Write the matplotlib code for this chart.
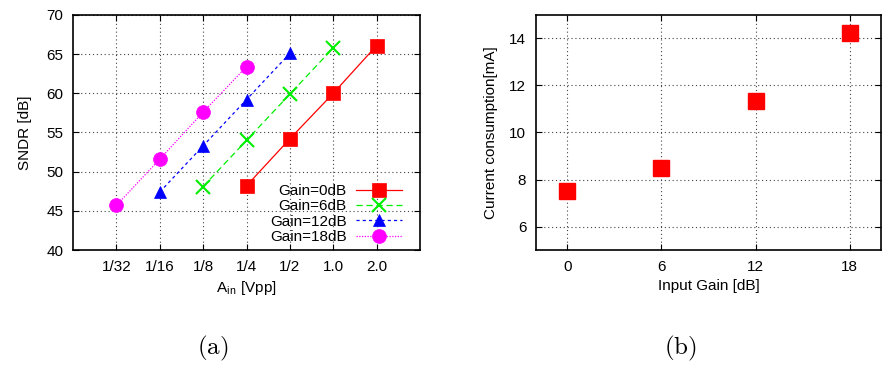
import numpy as np
import matplotlib
matplotlib.use('Agg')
import matplotlib.pyplot as plt

plt.rcParams['font.family'] = ['Liberation Sans', 'DejaVu Sans']
plt.rcParams['mathtext.fontset'] = 'cm'

# (a) SNDR vs input amplitude
amp_labels = ['1/32', '1/16', '1/8', '1/4', '1/2', '1.0', '2.0']
sndr_0db = [48.2, 54.2, 60.0, 66.1]      # 1/4 .. 2.0
sndr_6db = [48.1, 54.0, 59.9, 65.8]      # 1/8 .. 1.0
sndr_12db = [47.4, 53.3, 59.2, 65.1]     # 1/16 .. 1/2
sndr_18db = [45.7, 51.6, 57.6, 63.4]     # 1/32 .. 1/4
start_idx = {'0': 3, '6': 2, '12': 1, '18': 0}

# (b) current consumption vs input gain
gain_db = [0, 6, 12, 18]
current_ma = [7.5, 8.5, 11.35, 14.25]

fig = plt.figure(figsize=(8.82, 3.65), dpi=100)
axa = fig.add_axes([0.0828, 0.315, 0.3934, 0.644])
axb = fig.add_axes([0.6077, 0.315, 0.3913, 0.644])

series = [
    ('Gain=0dB', sndr_0db, start_idx['0'], '#ff0000', '-', 's', 10),
    ('Gain=6dB', sndr_6db, start_idx['6'], '#00ee00', (0, (5, 3)), 'x', 10),
    ('Gain=12dB', sndr_12db, start_idx['12'], '#0000ff', (0, (2.5, 2.5)), '^', 8),
    ('Gain=18dB', sndr_18db, start_idx['18'], '#ff00ff', (0, (1, 1.2)), 'o', 10),
]
for label, vals, s, col, ls, mk, ms in series:
    xs = np.arange(s, s + len(vals)) + 1
    axa.plot(xs, vals, color=col, linestyle=ls, linewidth=0.9, marker=mk,
             markersize=ms, markeredgewidth=1.5 if mk == 'x' else 0.5,
             label=label)

axa.set_xlim(0, 8)
axa.set_ylim(40, 70)
axa.set_xticks(np.arange(1, len(amp_labels) + 1))
axa.set_xticklabels(amp_labels)
axa.set_yticks(np.arange(40, 71, 5))
axa.set_ylabel('SNDR [dB]', fontsize=11, labelpad=10)
axa.set_xlabel(r'A$_{\mathregular{in}}$ [Vpp]', fontsize=11, labelpad=4)
axa.legend(loc='lower right', bbox_to_anchor=(0.965, 0.0), frameon=False,
           markerfirst=False, fontsize=11, handlelength=3.0,
           labelspacing=0.08, borderaxespad=0.0, handletextpad=0.6)

axb.plot(gain_db, current_ma, linestyle='none', marker='s', markersize=11,
         color='#ff0000')
axb.set_xlim(-2, 20)
axb.set_ylim(5, 15)
axb.set_xticks(gain_db)
axb.set_yticks([6, 8, 10, 12, 14])
axb.set_xlabel('Input Gain [dB]', fontsize=11, labelpad=4)
axb.set_ylabel('Current consumption[mA]', fontsize=11, labelpad=8)

for ax in (axa, axb):
    ax.grid(True, color='#444444', linestyle=(0, (1, 2.5)), linewidth=0.8)
    ax.tick_params(direction='in', top=True, right=True, labelsize=11,
                   length=4, pad=7)
    for sp in ax.spines.values():
        sp.set_linewidth(1.2)

fig.text(0.2415, 0.03, r'$\mathrm{(a)}$', fontsize=18, ha='center',
         va='baseline')
fig.text(0.771, 0.03, r'$\mathrm{(b)}$', fontsize=18, ha='center',
         va='baseline')

fig.savefig('out.png', dpi=100)
